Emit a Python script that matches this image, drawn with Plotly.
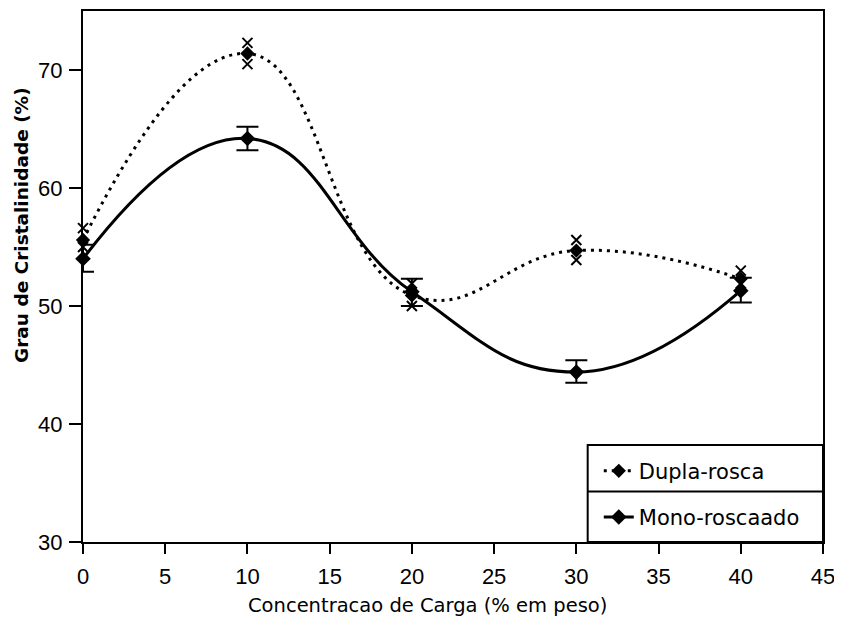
import plotly.graph_objects as go

# Data
carga = [0, 10, 20, 30, 40]
mono_vals = [54.0, 64.2, 51.2, 44.4, 51.3]
mono_err_plus = [1.2, 1.0, 1.1, 1.0, 1.1]
mono_err_minus = [1.1, 1.0, 1.2, 0.9, 1.0]
dupla_vals = [55.6, 71.4, 50.9, 54.7, 52.3]
dupla_rep_x = [0, 0, 10, 10, 20, 20, 30, 30, 40, 40]
dupla_rep_y = [56.6, 55.0, 72.3, 70.5, 51.9, 50.0, 55.6, 53.9, 53.0, 51.9]

x_ticks = [0, 5, 10, 15, 20, 25, 30, 35, 40, 45]
y_ticks = [30, 40, 50, 60, 70]

x_title = "Concentracao de Carga (% em peso)"
y_title = "<b>Grau de Cristalinidade (%)</b>"

FONT = "DejaVu Sans"
TICKFONT = "Liberation Sans, Arial, sans-serif"

fig = go.Figure()

fig.add_trace(go.Scatter(
    x=dupla_rep_x, y=dupla_rep_y, mode="markers",
    marker=dict(symbol="x-thin", size=10, line=dict(width=2, color="black"), color="black"),
    showlegend=False, cliponaxis=False, hoverinfo="skip"))

fig.add_trace(go.Scatter(
    x=carga, y=dupla_vals, mode="lines+markers", name="Dupla-rosca",
    line=dict(shape="spline", smoothing=1.3, color="black", width=3, dash="3px,5px"),
    marker=dict(symbol="diamond", size=11, color="black"),
    cliponaxis=False, legend="legend"))

fig.add_trace(go.Scatter(
    x=carga, y=mono_vals, mode="lines+markers", name="Mono-roscaado",
    line=dict(shape="spline", smoothing=1.3, color="black", width=3),
    marker=dict(symbol="diamond", size=12, color="black"),
    error_y=dict(type="data", symmetric=False, array=mono_err_plus,
                 arrayminus=mono_err_minus, color="black", thickness=2, width=11),
    cliponaxis=False, legend="legend2"))

axis_common = dict(
    showline=True, linecolor="black", linewidth=2, mirror=True,
    ticks="outside", tickwidth=1.5, tickcolor="black",
    showgrid=False, zeroline=False,
    tickfont=dict(family=TICKFONT, size=22, color="black"),
)

fig.update_layout(
    width=834, height=609,
    margin=dict(l=75, r=19, t=1, b=75),
    paper_bgcolor="white", plot_bgcolor="white",
    xaxis=dict(range=[0, 45], tickvals=x_ticks, ticklen=10, ticklabelstandoff=4, **axis_common),
    yaxis=dict(range=[30, 75], tickvals=y_ticks, ticklen=12, ticklabelstandoff=2, **axis_common),
    legend=dict(x=0.697, y=0.172, xanchor="left", yanchor="top",
                bgcolor="rgba(0,0,0,0)", borderwidth=0,
                font=dict(family=FONT, size=21, color="black")),
    legend2=dict(x=0.697, y=0.085, xanchor="left", yanchor="top",
                 bgcolor="rgba(0,0,0,0)", borderwidth=0,
                 font=dict(family=FONT, size=21, color="black")),
    shapes=[
        dict(type="rect", xref="paper", yref="paper", x0=0.682, x1=1.0, y0=0, y1=0.1825,
             line=dict(color="black", width=2), fillcolor="rgba(0,0,0,0)"),
        dict(type="line", xref="paper", yref="paper", x0=0.682, x1=1.0, y0=0.095, y1=0.095,
             line=dict(color="black", width=2)),
    ],
    annotations=[
        dict(text=x_title, xref="paper", yref="paper", x=0.465, y=-0.12,
             xanchor="center", yanchor="middle", showarrow=False,
             font=dict(family=FONT, size=19.5, color="black")),
        dict(text=y_title, xref="paper", yref="paper", x=-0.0824, y=0.597,
             xanchor="center", yanchor="middle", showarrow=False, textangle=-90,
             font=dict(family=FONT, size=18.5, color="black")),
    ],
    showlegend=True,
)

fig.write_html("out.html")
